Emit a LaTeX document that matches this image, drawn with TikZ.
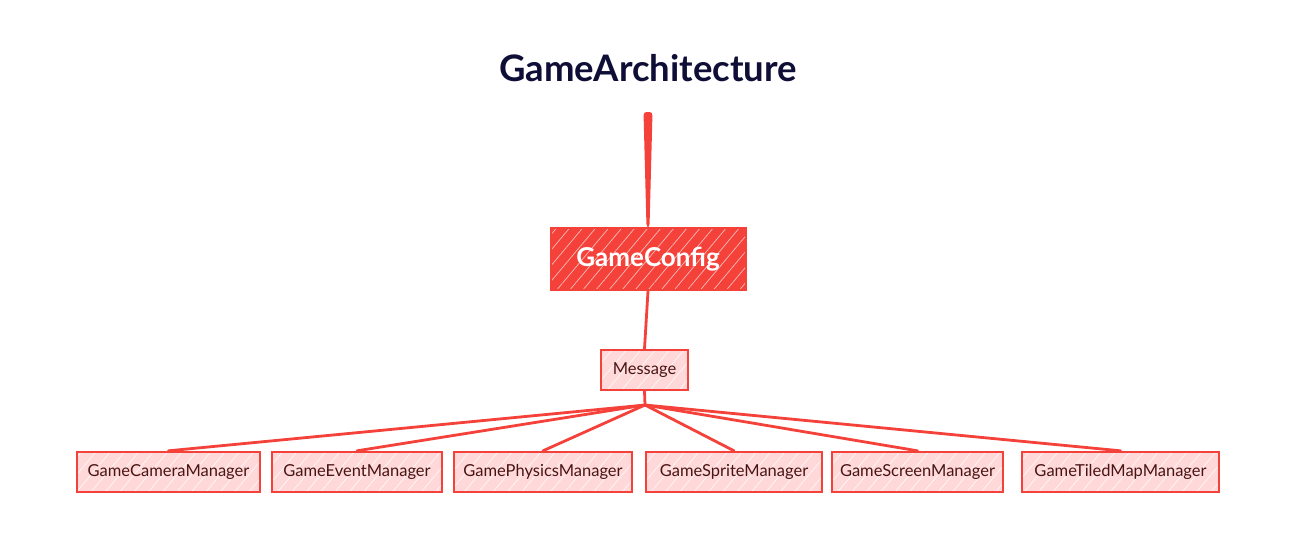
\documentclass[tikz,border=0pt]{standalone}
\usepackage{fontspec}
\setmainfont{Lato}
\usepackage{tikz}
\usetikzlibrary{patterns.meta}
\definecolor{cfgred}{HTML}{F4413A}
\definecolor{mgrfill}{HTML}{FFD9D9}
\definecolor{mgrtext}{HTML}{4A1414}
\definecolor{titlenavy}{HTML}{0E0E36}
\tikzset{
  config/.style={draw=cfgred, line width=2pt, text=white,
    font=\fontsize{26}{30}\selectfont\bfseries, minimum width=195pt, minimum height=62pt,
    preaction={fill=cfgred},
    preaction={pattern={Lines[angle=50,distance=10pt,line width=0.7pt]}, pattern color=white!65!cfgred}},
  manager/.style={draw=cfgred, line width=2.4pt, text=mgrtext,
    font=\fontsize{16.5}{19}\selectfont, minimum height=40pt, inner xsep=0pt,
    preaction={fill=mgrfill},
    preaction={pattern={Lines[angle=50,distance=11pt,line width=0.5pt]}, pattern color=white}},
  link/.style={draw=cfgred, line width=2.8pt, line cap=round}
}
\begin{document}
\begin{tikzpicture}[x=1pt,y=-1pt]
  \useasboundingbox (0,0) rectangle (1297,549);
  \node[text=titlenavy, font=\fontsize{36.5}{42}\selectfont\bfseries] (title) at (648,68) {GameArchitecture};
  \coordinate (root) at (648,112);
  \node[config] (cfg) at (648,259) {GameConfig};
  \node[manager, minimum width=87pt] (msg) at (644.5,370) {Message};
  \coordinate (hub) at (645,405);
  % managers
  \node[manager, minimum width=183pt] (camera) at (168.5,472) {GameCameraManager};
  \node[manager, minimum width=170pt] (event) at (357,472) {GameEventManager};
  \node[manager, minimum width=178pt] (physics) at (543,472) {GamePhysicsManager};
  \node[manager, minimum width=176pt] (sprite) at (734,472) {GameSpriteManager};
  \node[manager, minimum width=171pt] (screen) at (917.5,472) {GameScreenManager};
  \node[manager, minimum width=197pt] (tiled) at (1120.5,472) {GameTiledMapManager};
  % connectors
  \fill[cfgred, rounded corners=3pt] ([xshift=-4.5pt]root) -- ([xshift=4.5pt]root)
    -- ([xshift=1.5pt]cfg.north) -- ([xshift=-1.5pt]cfg.north) -- cycle;
  \draw[link] (cfg.south) -- (msg.north);
  \draw[link] (msg.south) -- (hub);
  \foreach \m in {camera,event,physics,sprite,screen,tiled}
    \draw[link] (hub) -- (\m.north);
\end{tikzpicture}
\end{document}
